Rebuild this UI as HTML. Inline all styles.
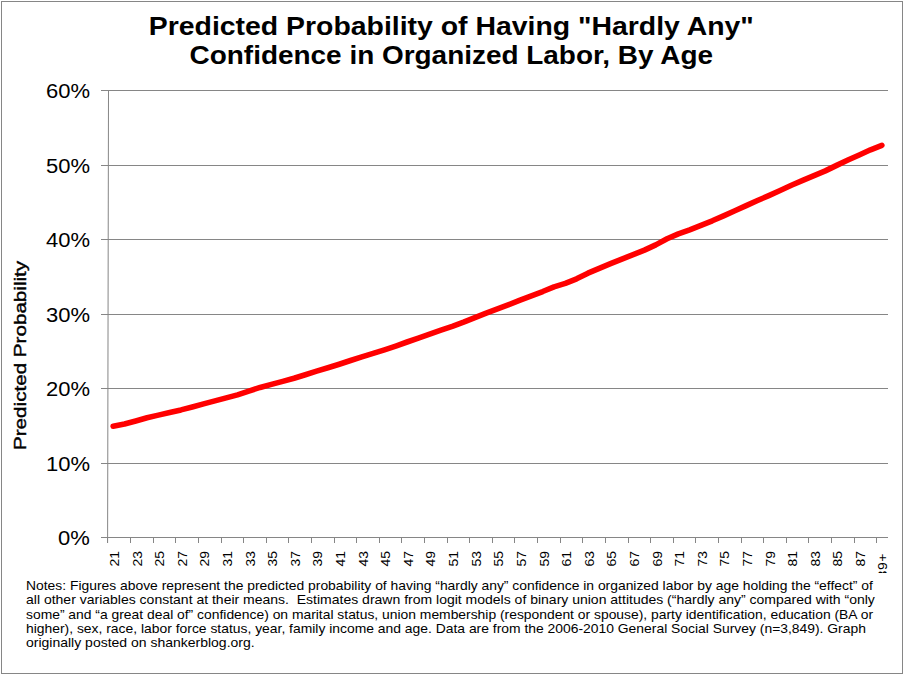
<!DOCTYPE html>
<html><head><meta charset="utf-8"><style>
html,body{margin:0;padding:0;background:#fff;}
body{width:904px;height:675px;position:relative;overflow:hidden;font-family:"Liberation Sans",sans-serif;color:#000;}
#frame{position:absolute;left:1px;top:1px;width:900px;height:671px;border:1px solid #868686;}
svg{position:absolute;left:0;top:0;}
#title{position:absolute;left:-1px;width:904px;top:11.5px;text-align:center;font-weight:bold;font-size:25px;line-height:29.3px;}
#title span{display:inline-block;transform-origin:50% 50%;}
#t1{transform:scaleX(1.136);}
#t2{transform:scaleX(1.117);}
.yl{position:absolute;right:814px;font-size:20px;line-height:20px;text-align:right;transform-origin:100% 50%;transform:scaleX(1.1);}
#ytitle{position:absolute;left:12.3px;top:450px;font-weight:normal;font-size:17px;line-height:18px;white-space:nowrap;transform-origin:0 0;transform:rotate(-90deg) scaleX(1.213);-webkit-text-stroke:0.4px #000;}
#xlabels{position:absolute;left:0;top:0;width:904px;height:573px;overflow:hidden;}
.xl{position:absolute;top:551px;width:40px;height:14px;text-align:right;font-size:13.5px;line-height:14px;transform-origin:100% 0;transform:rotate(-90deg) scaleX(1.03);}
#notes{position:absolute;left:26px;top:579px;font-size:12.4px;line-height:14.3px;color:#000;}
#notes div{white-space:nowrap;transform-origin:0 0;}
#n1{transform:scaleX(1.119);}
#n2{transform:scaleX(1.1297424);}
#n3{transform:scaleX(1.119);}
#n4{transform:scaleX(1.1203428000000002);}
#n5{transform:scaleX(1.129071);}
</style></head><body>
<div id="frame"></div>
<svg width="904" height="675" viewBox="0 0 904 675">
<g fill="#868686">
<rect x="101" y="90" width="787" height="1"/>
<rect x="101" y="165" width="787" height="1"/>
<rect x="101" y="239" width="787" height="1"/>
<rect x="101" y="314" width="787" height="1"/>
<rect x="101" y="388" width="787" height="1"/>
<rect x="101" y="463" width="787" height="1"/>
<rect x="101" y="537" width="787" height="1"/>
<line x1="108.5" y1="90" x2="107.6" y2="543" stroke="#868686" stroke-width="1"/>
<rect x="107" y="537" width="1" height="6"/>
<rect x="130" y="537" width="1" height="6"/>
<rect x="153" y="537" width="1" height="6"/>
<rect x="175" y="537" width="1" height="6"/>
<rect x="198" y="537" width="1" height="6"/>
<rect x="221" y="537" width="1" height="6"/>
<rect x="243" y="537" width="1" height="6"/>
<rect x="266" y="537" width="1" height="6"/>
<rect x="288" y="537" width="1" height="6"/>
<rect x="311" y="537" width="1" height="6"/>
<rect x="334" y="537" width="1" height="6"/>
<rect x="356" y="537" width="1" height="6"/>
<rect x="379" y="537" width="1" height="6"/>
<rect x="401" y="537" width="1" height="6"/>
<rect x="424" y="537" width="1" height="6"/>
<rect x="447" y="537" width="1" height="6"/>
<rect x="469" y="537" width="1" height="6"/>
<rect x="492" y="537" width="1" height="6"/>
<rect x="514" y="537" width="1" height="6"/>
<rect x="537" y="537" width="1" height="6"/>
<rect x="560" y="537" width="1" height="6"/>
<rect x="582" y="537" width="1" height="6"/>
<rect x="605" y="537" width="1" height="6"/>
<rect x="628" y="537" width="1" height="6"/>
<rect x="650" y="537" width="1" height="6"/>
<rect x="673" y="537" width="1" height="6"/>
<rect x="695" y="537" width="1" height="6"/>
<rect x="718" y="537" width="1" height="6"/>
<rect x="741" y="537" width="1" height="6"/>
<rect x="763" y="537" width="1" height="6"/>
<rect x="786" y="537" width="1" height="6"/>
<rect x="808" y="537" width="1" height="6"/>
<rect x="831" y="537" width="1" height="6"/>
<rect x="854" y="537" width="1" height="6"/>
<rect x="876" y="537" width="1" height="6"/>
</g>
<polyline points="113.15,426.19 124.46,424.07 135.76,421.01 147.07,417.79 158.37,415.14 169.67,412.52 180.98,409.90 192.28,406.95 203.59,403.89 214.89,400.90 226.20,397.85 237.50,394.86 248.80,391.10 260.11,387.45 271.41,384.35 282.72,381.40 294.02,378.22 305.33,374.76 316.63,371.17 327.93,367.79 339.24,364.26 350.54,360.51 361.85,356.86 373.15,353.39 384.46,349.86 395.76,346.06 407.07,342.01 418.37,338.10 429.67,334.04 440.98,330.12 452.28,326.34 463.59,322.12 474.89,317.57 486.20,313.12 497.50,308.89 508.80,304.62 520.11,300.12 531.41,295.87 542.72,291.53 554.02,286.83 565.33,283.42 576.63,278.81 587.93,273.16 599.24,268.31 610.54,263.67 621.85,259.05 633.15,254.70 644.46,250.14 655.76,244.87 667.07,238.80 678.37,233.84 689.67,229.84 700.98,225.34 712.28,220.80 723.59,215.83 734.89,210.77 746.20,205.67 757.50,200.52 768.80,195.60 780.11,190.50 791.41,185.23 802.72,180.31 814.02,175.59 825.33,170.87 836.63,165.36 847.93,160.07 859.24,154.95 870.54,149.78 881.85,145.29" fill="none" stroke="#ff0000" stroke-width="5.6" stroke-linecap="round" stroke-linejoin="round"/>
</svg>
<div id="title"><span id="t1">Predicted Probability of Having "Hardly Any"</span><br><span id="t2">Confidence in Organized Labor, By Age</span></div>
<div class="yl" style="top:81.0px">60%</div>
<div class="yl" style="top:156.0px">50%</div>
<div class="yl" style="top:230.0px">40%</div>
<div class="yl" style="top:305.0px">30%</div>
<div class="yl" style="top:379.0px">20%</div>
<div class="yl" style="top:454.0px">10%</div>
<div class="yl" style="top:528.0px">0%</div>
<div id="ytitle">Predicted Probability</div>
<div id="xlabels">
<div class="xl" style="left:67.95px">21</div>
<div class="xl" style="left:90.56px">23</div>
<div class="xl" style="left:113.17px">25</div>
<div class="xl" style="left:135.78px">27</div>
<div class="xl" style="left:158.39px">29</div>
<div class="xl" style="left:181.00px">31</div>
<div class="xl" style="left:203.60px">33</div>
<div class="xl" style="left:226.21px">35</div>
<div class="xl" style="left:248.82px">37</div>
<div class="xl" style="left:271.43px">39</div>
<div class="xl" style="left:294.04px">41</div>
<div class="xl" style="left:316.65px">43</div>
<div class="xl" style="left:339.26px">45</div>
<div class="xl" style="left:361.87px">47</div>
<div class="xl" style="left:384.47px">49</div>
<div class="xl" style="left:407.08px">51</div>
<div class="xl" style="left:429.69px">53</div>
<div class="xl" style="left:452.30px">55</div>
<div class="xl" style="left:474.91px">57</div>
<div class="xl" style="left:497.52px">59</div>
<div class="xl" style="left:520.13px">61</div>
<div class="xl" style="left:542.73px">63</div>
<div class="xl" style="left:565.34px">65</div>
<div class="xl" style="left:587.95px">67</div>
<div class="xl" style="left:610.56px">69</div>
<div class="xl" style="left:633.17px">71</div>
<div class="xl" style="left:655.78px">73</div>
<div class="xl" style="left:678.39px">75</div>
<div class="xl" style="left:701.00px">77</div>
<div class="xl" style="left:723.60px">79</div>
<div class="xl" style="left:746.21px">81</div>
<div class="xl" style="left:768.82px">83</div>
<div class="xl" style="left:791.43px">85</div>
<div class="xl" style="left:814.04px">87</div>
<div class="xl" style="left:835.85px;top:553.1px;letter-spacing:0.6px">89+</div>
</div>
<div id="notes">
<div id="n1">Notes: Figures above represent the predicted probability of having “hardly any” confidence in organized labor by age holding the “effect” of</div>
<div id="n2">all other variables constant at their means.&nbsp; Estimates drawn from logit models of binary union attitudes (“hardly any” compared with “only</div>
<div id="n3">some” and “a great deal of” confidence) on marital status, union membership (respondent or spouse), party identification, education (BA or</div>
<div id="n4">higher), sex, race, labor force status, year, family income and age. Data are from the 2006-2010 General Social Survey (n=3,849). Graph</div>
<div id="n5">originally posted on shankerblog.org.</div>
</div>
</body></html>
